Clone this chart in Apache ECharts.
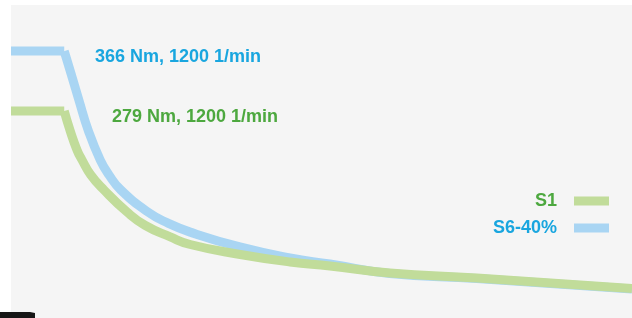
<!DOCTYPE html>
<html>
<head>
<meta charset="utf-8">
<script src="https://cdn.jsdelivr.net/npm/echarts@6/dist/echarts.min.js"></script>
<style>
  html, body { margin: 0; padding: 0; background: #fff; }
  #main { width: 632px; height: 318px; }
</style>
</head>
<body>
<div id="main"></div>
<script>
// drehzahl 1/min und drehmoment Nm
var s6Speed  = [0, 1200, 1350, 1530, 1740, 2010, 2210, 2480, 3090, 3540, 4040, 5160, 6290, 7190, 8540, 10500, 14000];
var s6Torque = [366, 366, 334, 295, 251, 208, 186, 164, 132, 116, 103, 81.4, 65.4, 56.7, 43, 35.7, 20.5];
var s1Speed  = [0, 1200, 1330, 1490, 1600, 1800, 2100, 2620, 3020, 3590, 4040, 5100, 6290, 7190, 8540, 10500, 14000];
var s1Torque = [279, 279, 251, 222, 208, 186, 164, 132, 113, 96, 85, 71.2, 59.6, 53.8, 43.6, 36.3, 21.1];
var eckDrehzahl = 1200; // ab hier faellt das moment
var seriesNames = ['S1', 'S6-40%'];
var labelTexts = ['279 Nm, 1200 1/min', '366 Nm, 1200 1/min'];

var blau = '#a9d5f3', gruen = '#c1dc9a';
var blauText = '#19a6df', gruenText = '#4da83f';
var schrift = '"Liberation Sans", Arial, sans-serif';

// gerades stueck bis zur eckdrehzahl
function gerade(xs, ys) {
    var out = [];
    for (var i = 0; i < xs.length; i++) {
        if (xs[i] <= eckDrehzahl) out.push([xs[i], ys[i]]);
    }
    return out;
}
// kurve ab eckdrehzahl
function kurve(xs, ys) {
    var out = [];
    for (var i = 0; i < xs.length; i++) {
        if (xs[i] >= eckDrehzahl) out.push([xs[i], ys[i]]);
    }
    return out;
}

function linie(name, farbe, daten, glatt) {
    return {
        name: name,
        type: 'line',
        color: farbe,
        data: daten,
        showSymbol: false,
        smooth: glatt,
        lineStyle: { width: 9, color: farbe, cap: 'butt', join: 'miter' }
    };
}

var chartDom = document.getElementById('main');
var myChart = echarts.init(chartDom, null, { renderer: 'canvas' });
var option;

option = {
    animation: false,
    backgroundColor: '#f5f5f5',
    grid: { left: 11, right: 0, top: 5, bottom: 15 },
    xAxis: { type: 'value', min: 0, max: 14000, show: false },
    yAxis: { type: 'value', min: 0, max: 433, show: false },
    legend: {
        orient: 'vertical',
        right: 23,
        top: 192,
        padding: 0,
        align: 'right',
        itemWidth: 35,
        itemHeight: 9,
        itemGap: 9,
        icon: 'rect',
        data: [
            { name: seriesNames[0], textStyle: { color: gruenText } },
            { name: seriesNames[1], textStyle: { color: blauText } }
        ],
        textStyle: {
            fontFamily: schrift,
            fontWeight: 'bold',
            fontSize: 18,
            lineHeight: 18,
            padding: [0, 12, 0, 0]
        }
    },
    graphic: [
        { type: 'rect', left: 0, top: 0, shape: { width: 11, height: 318 }, style: { fill: '#fff' }, z: 10 },
        { type: 'rect', left: 0, top: 0, shape: { width: 632, height: 5 }, style: { fill: '#fff' }, z: 10 },
        {
            type: 'polygon',
            shape: { points: [[0, 312], [30, 312], [35, 313], [35, 318], [0, 318]] },
            style: { fill: '#161616' },
            z: 11
        },
        {
            type: 'text', x: 95, y: 57, z: 10,
            style: { text: labelTexts[1], fill: blauText, font: 'bold 18px ' + schrift, verticalAlign: 'middle' }
        },
        {
            type: 'text', x: 112, y: 117, z: 10,
            style: { text: labelTexts[0], fill: gruenText, font: 'bold 18px ' + schrift, verticalAlign: 'middle' }
        }
    ],
    series: [
        linie(seriesNames[1], blau, gerade(s6Speed, s6Torque), false),
        linie(seriesNames[1], blau, kurve(s6Speed, s6Torque), 0.5),
        linie(seriesNames[0], gruen, gerade(s1Speed, s1Torque), false),
        linie(seriesNames[0], gruen, kurve(s1Speed, s1Torque), 0.5)
    ]
};

option && myChart.setOption(option);
</script>
</body>
</html>
